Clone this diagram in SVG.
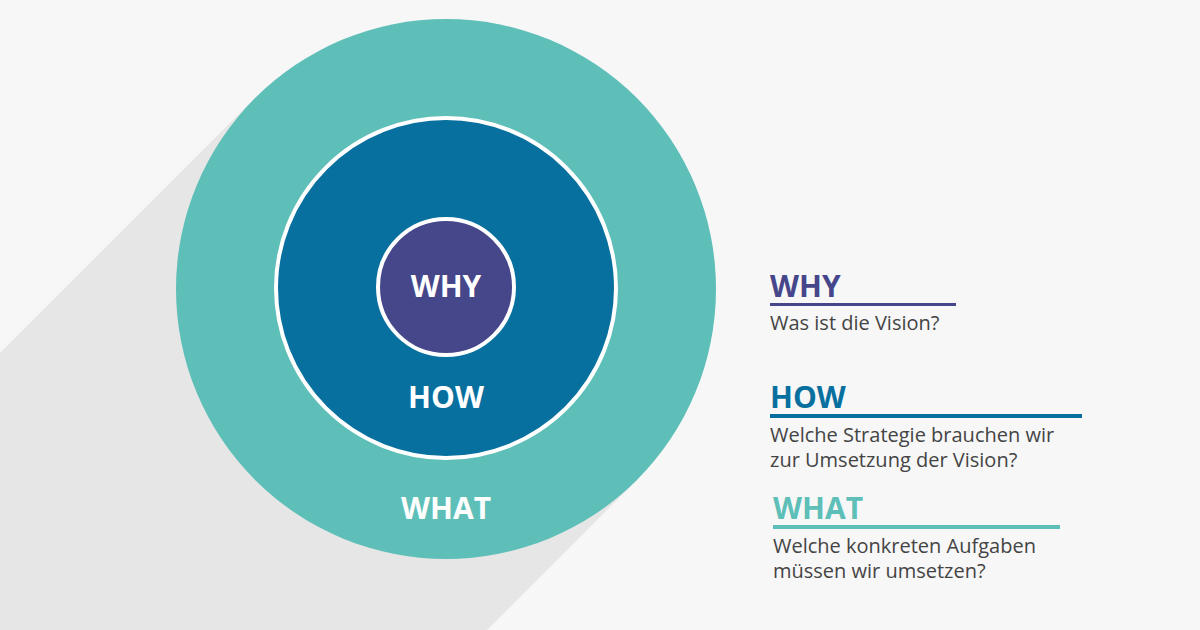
<svg xmlns="http://www.w3.org/2000/svg" width="1200" height="630" viewBox="0 0 1200 630">
<style>
.h{font-family:"Open Sans","Liberation Sans",sans-serif;font-weight:bold;font-size:30px}
.c{font-family:"Open Sans","Liberation Sans",sans-serif;font-weight:bold;font-size:30px;fill:#fff;text-anchor:middle}
.t{font-family:"Open Sans","Liberation Sans",sans-serif;font-size:20px;fill:#444}
</style>
<rect width="1200" height="630" fill="#f7f7f7"/>
<polygon points="255,98 637,480 487,630 0,630 0,353" fill="#e6e6e6"/>
<g id="what"><circle cx="446" cy="289" r="270" fill="#5ebfb8"/><text class="c" x="446" y="519">WHAT</text></g>
<g id="how"><circle cx="446" cy="288" r="170" fill="#08709f" stroke="#fff" stroke-width="4"/><text class="c" x="446" y="408">HOW</text></g>
<g id="why"><circle cx="446" cy="287" r="68" fill="#46468a" stroke="#fff" stroke-width="4"/><text class="c" x="446" y="297">WHY</text></g>
<g id="legend-why"><text class="h" x="770" y="297" fill="#46468a">WHY</text><rect x="770" y="303" width="186" height="3" fill="#46468a"/><text class="t" x="770" y="330">Was ist die Vision?</text></g>
<g id="legend-how"><text class="h" x="770" y="408" fill="#08709f">HOW</text><rect x="770" y="414" width="312" height="4" fill="#08709f"/><text class="t" x="770" y="442">Welche Strategie brauchen wir</text><text class="t" x="770" y="467">zur Umsetzung der Vision?</text></g>
<g id="legend-what"><text class="h" x="773" y="519" fill="#5ebfb8">WHAT</text><rect x="773" y="525" width="287" height="4" fill="#5ebfb8"/><text class="t" x="773" y="553">Welche konkreten Aufgaben</text><text class="t" x="773" y="578">müssen wir umsetzen?</text></g>
</svg>
